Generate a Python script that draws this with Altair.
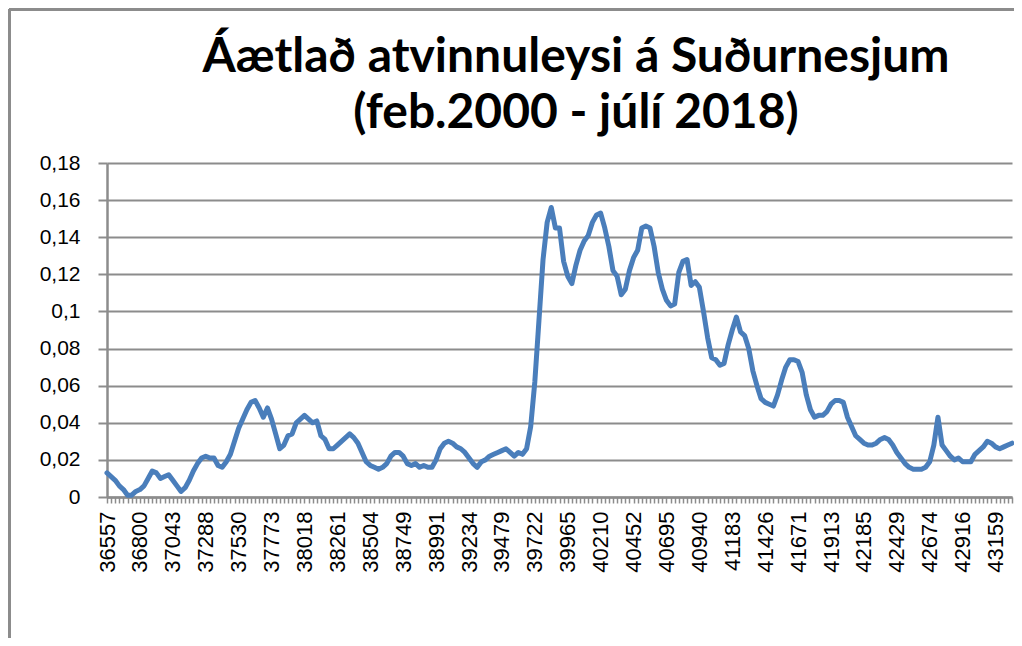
import altair as alt
import pandas as pd

# Labels shown on the category axis (Excel date serials), every 8th category
tick_labels = ["36557", "36800", "37043", "37288", "37530", "37773", "38018",
               "38261", "38504", "38749", "38991", "39234", "39479", "39722",
               "39965", "40210", "40452", "40695", "40940", "41183", "41426",
               "41671", "41913", "42185", "42429", "42674", "42916", "43159"]
label_step = 8

title_lines = ["Áætlað atvinnuleysi á Suðurnesjum", "(feb.2000 - júlí 2018)"]

# Estimated unemployment rate, one value per month (feb 2000 - júlí 2018)
rate = [
    0.013, 0.011, 0.009, 0.006, 0.004, 0.001, 0.001, 0.003, 0.004, 0.006,
    0.010, 0.014, 0.013, 0.010, 0.011, 0.012, 0.009, 0.006, 0.003, 0.005,
    0.009, 0.014, 0.018, 0.021, 0.022, 0.021, 0.021, 0.017, 0.016, 0.019,
    0.023, 0.030, 0.037, 0.042, 0.047, 0.051, 0.052, 0.048, 0.043, 0.048,
    0.042, 0.034, 0.026, 0.028, 0.033, 0.034, 0.040, 0.042, 0.044, 0.042,
    0.040, 0.041, 0.033, 0.031, 0.026, 0.026, 0.028, 0.030, 0.032, 0.034,
    0.032, 0.029, 0.024, 0.019, 0.017, 0.016, 0.015, 0.016, 0.018, 0.022,
    0.024, 0.024, 0.022, 0.018, 0.017, 0.018, 0.016, 0.017, 0.016, 0.016,
    0.020, 0.026, 0.029, 0.030, 0.029, 0.027, 0.026, 0.024, 0.021, 0.018,
    0.016, 0.019, 0.020, 0.022, 0.023, 0.024, 0.025, 0.026, 0.024, 0.022,
    0.024, 0.023, 0.026, 0.038, 0.062, 0.095, 0.128, 0.148, 0.156, 0.145,
    0.145, 0.127, 0.119, 0.115, 0.125, 0.133, 0.138, 0.141, 0.148, 0.152,
    0.153, 0.145, 0.135, 0.122, 0.119, 0.109, 0.112, 0.122, 0.129, 0.133,
    0.145, 0.146, 0.145, 0.135, 0.121, 0.112, 0.106, 0.103, 0.104, 0.121,
    0.127, 0.128, 0.114, 0.116, 0.113, 0.100, 0.086, 0.075, 0.074, 0.071,
    0.072, 0.082, 0.090, 0.097, 0.089, 0.087, 0.080, 0.068, 0.060, 0.053,
    0.051, 0.050, 0.049, 0.055, 0.063, 0.070, 0.074, 0.074, 0.073, 0.067,
    0.055, 0.047, 0.043, 0.044, 0.044, 0.046, 0.050, 0.052, 0.052, 0.051,
    0.043, 0.038, 0.033, 0.031, 0.029, 0.028, 0.028, 0.029, 0.031, 0.032,
    0.031, 0.028, 0.024, 0.021, 0.018, 0.016, 0.015, 0.015, 0.015, 0.016,
    0.019, 0.028, 0.043, 0.028, 0.025, 0.022, 0.020, 0.021, 0.019, 0.019,
    0.019, 0.023, 0.025, 0.027, 0.030, 0.029, 0.027, 0.026, 0.027, 0.028,
    0.029,
]

y_ticks = [0, 0.02, 0.04, 0.06, 0.08, 0.1, 0.12, 0.14, 0.16, 0.18]

df = pd.DataFrame({"idx": list(range(len(rate))), "rate": rate})
title_df = pd.DataFrame({"line": title_lines})

label_array = "[" + ",".join(f"'{t}'" for t in tick_labels) + "]"
x_label_expr = (f"datum.value % {label_step} === 0 ? "
                f"{label_array}[datum.value / {label_step}] : ''")

GRID = "#8c8c8c"
FONT = "Liberation Sans"
TITLE_FONT = "Lato"

line = alt.Chart(df).mark_line(
    color="#4a7ebb", strokeWidth=5, strokeJoin="round", strokeCap="round"
).encode(
    x=alt.X("idx:Q",
            scale=alt.Scale(domain=[0, len(rate) - 1], nice=False, zero=False),
            axis=alt.Axis(values=list(range(len(rate))), labelExpr=x_label_expr,
                          labelAngle=-90, labelOverlap=False, labelFlush=False,
                          labelBound=False, grid=False, title=None,
                          tickSize=6, tickWidth=1.5, tickColor=GRID,
                          domainColor=GRID, domainWidth=2.5,
                          labelFont=FONT, labelFontSize=22, labelColor="#000",
                          labelPadding=8)),
    y=alt.Y("rate:Q",
            scale=alt.Scale(domain=[0, 0.18], nice=False),
            axis=alt.Axis(values=y_ticks, grid=True, gridColor=GRID, gridWidth=2,
                          gridOpacity=1, title=None, tickSize=9, tickWidth=2,
                          tickColor=GRID, domainColor=GRID, domainWidth=2.5,
                          labelExpr="replace(format(datum.value, '.2~f'), '.', ',')",
                          labelFont=FONT, labelFontSize=21, labelColor="#000",
                          labelPadding=18)),
)

# Title drawn as text above the plot area
title1 = alt.Chart(title_df).transform_filter(
    alt.datum.line == title_lines[0]
).mark_text(font=TITLE_FONT, fontSize=48, fontWeight="bold", color="#000",
            align="center", baseline="alphabetic").encode(
    text="line:N", x=alt.value(469), y=alt.value(-91))
title2 = alt.Chart(title_df).transform_filter(
    alt.datum.line == title_lines[1]
).mark_text(font=TITLE_FONT, fontSize=48, fontWeight="bold", color="#000",
            align="center", baseline="alphabetic").encode(
    text="line:N", x=alt.value(469), y=alt.value(-35))

# outer chart-area frame (Excel chart border)
frame_top = alt.Chart(df).mark_rule(color=GRID, strokeWidth=2.5).encode(
    x=alt.value(-98), x2=alt.value(910), y=alt.value(-154))
frame_left = alt.Chart(df).mark_rule(color=GRID, strokeWidth=2.5).encode(
    x=alt.value(-98), y=alt.value(-154), y2=alt.value(480))

chart = alt.layer(frame_top, frame_left, title1, title2, line).properties(
    width=905, height=334,
    autosize=alt.AutoSizeParams(type="none"),
    padding={"left": 99, "top": 155, "right": 2, "bottom": 141},
).configure_view(stroke=None)

chart.save("out.html", embed_options={"renderer": "svg", "actions": False})
